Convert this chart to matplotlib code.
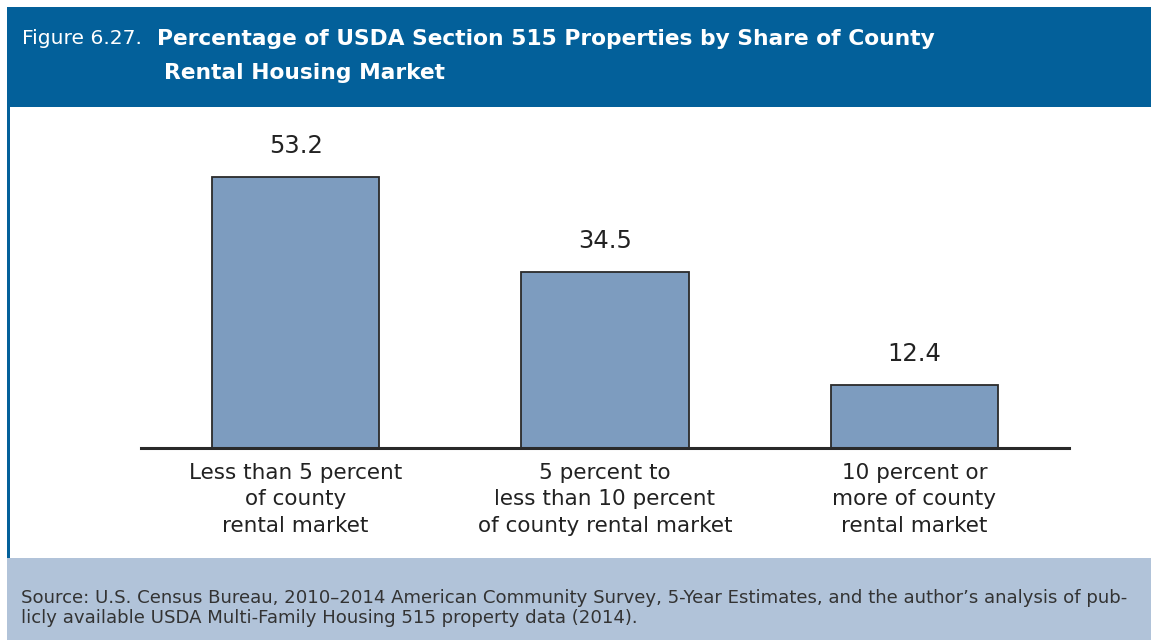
import matplotlib
matplotlib.use("Agg")
import matplotlib.pyplot as plt
from matplotlib.patches import Rectangle

# ---- data ----
categories = [
    "Less than 5 percent\nof county\nrental market",
    "5 percent to\nless than 10 percent\nof county rental market",
    "10 percent or\nmore of county\nrental market",
]
values = [53.2, 34.5, 12.4]
value_labels = ["53.2", "34.5", "12.4"]

fig_label = "Figure 6.27."
title_lines = ["Percentage of USDA Section 515 Properties by Share of County",
               "Rental Housing Market"]
source_text = ("Source: U.S. Census Bureau, 2010\u20132014 American Community Survey, 5-Year Estimates, and the author\u2019s analysis of pub-\n"
               "licly available USDA Multi-Family Housing 515 property data (2014).")

# ---- style ----
W, H = 1151, 640
HEADER = "#03609a"
BAND = "#b1c3d9"
BAR = "#7d9cbf"
EDGE = "#2a2a2a"
TEXT = "#222222"

plt.rcParams['font.family'] = ['DejaVu Sans']

fig = plt.figure(figsize=(W / 100, H / 100), dpi=100)
fig.patch.set_facecolor("white")

def fx(x):
    return x / W

def fy(y):
    return 1 - y / H

# header band
fig.add_artist(Rectangle((fx(7), fy(107)), fx(W - 7), (100) / H,
                         transform=fig.transFigure, facecolor=HEADER, edgecolor="none", zorder=0))
# left border line
fig.add_artist(Rectangle((fx(7), fy(558)), fx(3), (558 - 107) / H,
                         transform=fig.transFigure, facecolor=HEADER, edgecolor="none", zorder=0))
# source band
fig.add_artist(Rectangle((fx(7), 0), fx(W - 7), (H - 558) / H,
                         transform=fig.transFigure, facecolor=BAND, edgecolor="none", zorder=0))

# title texts
fig.text(fx(22), fy(39), fig_label, color="white", fontsize=14.6, va="center", ha="left")
fig.text(fx(157), fy(39), title_lines[0], color="white", fontsize=15.7, fontweight="bold",
         va="center", ha="left")
fig.text(fx(164), fy(73), title_lines[1], color="white", fontsize=15.7, fontweight="bold",
         va="center", ha="left")

# source text
fig.text(fx(21), fy(608), source_text, color="#333333", fontsize=13.1, va="center", ha="left",
         linespacing=1.1)

# ---- chart ----
ax_bottom_px = 447.5
ax_top_px = 110
px_per_unit = 5.08
ax = fig.add_axes([fx(141), fy(ax_bottom_px), fx(1069 - 141), (ax_bottom_px - ax_top_px) / H])
ax.set_facecolor("none")
x = list(range(len(values)))
bars = ax.bar(x, values, width=0.54, color=BAR, edgecolor=EDGE, linewidth=1.3)
ax.bar_label(bars, labels=value_labels, padding=13.5, fontsize=17.5, color=TEXT)

ax.set_xlim(-0.5, 2.5)
ax.set_ylim(0, (ax_bottom_px - ax_top_px) / px_per_unit)
for s in ("left", "right", "top"):
    ax.spines[s].set_visible(False)
ax.spines["bottom"].set_linewidth(2.2)
ax.spines["bottom"].set_color(EDGE)
ax.set_yticks([])
ax.set_xticks(x)
ax.set_xticklabels(categories, fontsize=15.5, color=TEXT, linespacing=1.42)
ax.tick_params(axis="x", length=0, pad=11)

fig.savefig("out.png", dpi=100)
